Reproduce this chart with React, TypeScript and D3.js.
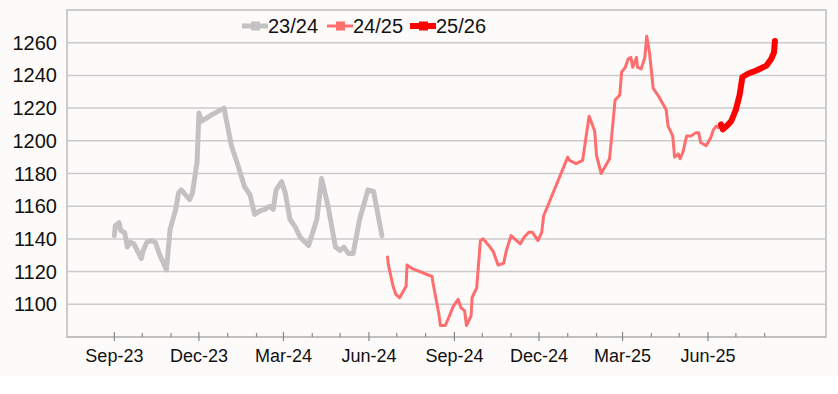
import * as React from "react";
import { line, scaleLinear, scaleTime, timeMonth, timeParse } from "d3";

// season 23/24
const dates2324 = [
  "2023-09-01", "2023-09-02", "2023-09-06", "2023-09-08", "2023-09-12", "2023-09-15",
  "2023-09-18", "2023-09-22", "2023-09-30", "2023-10-02", "2023-10-06", "2023-10-11",
  "2023-10-15", "2023-10-20", "2023-10-24", "2023-10-27", "2023-10-31", "2023-11-06",
  "2023-11-09", "2023-11-12", "2023-11-21", "2023-11-24", "2023-11-29", "2023-12-01",
  "2023-12-04", "2023-12-15", "2023-12-28", "2024-01-05", "2024-01-12", "2024-01-19",
  "2024-01-25", "2024-01-30", "2024-02-04", "2024-02-10", "2024-02-15", "2024-02-19",
  "2024-02-22", "2024-02-28", "2024-03-03", "2024-03-08", "2024-03-14", "2024-03-19",
  "2024-03-28", "2024-04-06", "2024-04-11", "2024-04-18", "2024-04-26", "2024-05-01",
  "2024-05-05", "2024-05-10", "2024-05-15", "2024-05-22", "2024-05-31", "2024-06-06",
  "2024-06-15",
];
const values2324 = [
  1142, 1148, 1150, 1145, 1144, 1135, 1138, 1137, 1128, 1133, 1138, 1139,
  1138, 1130, 1125, 1121, 1146, 1158, 1168, 1170, 1164, 1168, 1187, 1217,
  1212, 1216, 1220, 1197, 1185, 1172, 1167, 1155, 1157, 1158, 1160, 1158,
  1170, 1175, 1168, 1152, 1147, 1141, 1136, 1152, 1177, 1160, 1135, 1133,
  1135, 1131, 1131, 1152, 1170, 1169, 1142,
];

// season 24/25
const dates2425 = [
  "2024-06-21", "2024-06-22", "2024-06-27", "2024-06-30", "2024-07-04", "2024-07-08",
  "2024-07-11", "2024-07-12", "2024-07-17", "2024-08-08", "2024-08-09", "2024-08-15",
  "2024-08-17", "2024-08-22", "2024-08-26", "2024-08-31", "2024-09-05", "2024-09-08",
  "2024-09-12", "2024-09-14", "2024-09-19", "2024-09-20", "2024-09-25", "2024-09-29",
  "2024-10-02", "2024-10-08", "2024-10-13", "2024-10-18", "2024-10-24", "2024-10-27",
  "2024-11-01", "2024-11-07", "2024-11-11", "2024-11-15", "2024-11-20", "2024-11-24",
  "2024-11-30", "2024-12-04", "2024-12-06", "2025-01-01", "2025-01-03", "2025-01-10",
  "2025-01-17", "2025-01-24", "2025-01-30", "2025-02-01", "2025-02-06", "2025-02-10",
  "2025-02-15", "2025-02-21", "2025-02-26", "2025-02-28", "2025-03-04", "2025-03-07",
  "2025-03-10", "2025-03-12", "2025-03-16", "2025-03-17", "2025-03-21", "2025-03-25",
  "2025-03-27", "2025-03-30", "2025-04-03", "2025-04-08", "2025-04-17", "2025-04-19",
  "2025-04-24", "2025-04-26", "2025-04-30", "2025-05-02", "2025-05-05", "2025-05-09",
  "2025-05-14", "2025-05-19", "2025-05-22", "2025-05-24", "2025-05-30", "2025-06-04",
  "2025-06-07", "2025-06-10", "2025-06-12", "2025-06-15",
];
const values2425 = [
  1129, 1124, 1111, 1106, 1104, 1108, 1111, 1124, 1122, 1117, 1113, 1095,
  1087, 1087, 1092, 1099, 1103, 1098, 1096, 1087, 1093, 1104, 1110, 1139,
  1140, 1136, 1132, 1124, 1125, 1133, 1142, 1139, 1137, 1141, 1144, 1144,
  1139, 1144, 1154, 1190, 1188, 1186, 1188, 1215, 1206, 1191, 1180, 1184,
  1189, 1225, 1228, 1242, 1245, 1250, 1251, 1245, 1251, 1245, 1244, 1251,
  1264, 1254, 1232, 1228, 1219, 1209, 1203, 1190, 1192, 1189, 1193, 1203,
  1203, 1205, 1205, 1199, 1197, 1202, 1207, 1209, 1208, 1210,
];

// season 25/26
const dates2526 = [
  "2025-06-15", "2025-06-17", "2025-06-21", "2025-06-26", "2025-07-01", "2025-07-05",
  "2025-07-08", "2025-07-14", "2025-07-23", "2025-08-03", "2025-08-08", "2025-08-11",
  "2025-08-12",
];
const values2526 = [1210, 1207, 1209, 1212, 1219, 1228, 1239, 1241, 1243, 1246, 1250, 1254, 1261];

const seasonNames = ["23/24", "24/25", "25/26"];
const seasonColors = ["#c4c1c4", "#ff6e6e", "#ff0000"];
const seasonWidths = [5, 3, 6];
const yTicks = [1100, 1120, 1140, 1160, 1180, 1200, 1220, 1240, 1260];
const xDomain = ["2023-07-12", "2025-10-06"];

const parse = timeParse("%Y-%m-%d");
const fmt = (d: Date) =>
  ["Jan", "Feb", "Mar", "Apr", "May", "Jun", "Jul", "Aug", "Sep", "Oct", "Nov", "Dec"][d.getMonth()] +
  "-" + String(d.getFullYear()).slice(2);

export default function App() {
  const W = 838, H = 394;
  const left = 67, right = 826, top = 10, bottom = 337;

  const x = scaleTime().domain(xDomain.map((s) => parse(s) as Date)).range([left, right]);
  const y = scaleLinear().domain([1080, 1280]).range([bottom, top]);

  const series = [
    { dates: dates2324, values: values2324 },
    { dates: dates2425, values: values2425 },
    { dates: dates2526, values: values2526 },
  ].map((s) => s.dates.map((d, i) => ({ date: parse(d) as Date, value: s.values[i] })));

  const path = line<{ date: Date; value: number }>()
    .x((d) => x(d.date))
    .y((d) => y(d.value));

  const months = timeMonth.range(parse("2023-09-01") as Date, parse("2025-09-01") as Date);
  const font = "Liberation Sans, Arial, sans-serif";
  const legendX = [242, 327, 410];

  return (
    <div style={{ position: "fixed", left: 0, top: 0 }}>
      <svg width={W} height={H} style={{ display: "block", fontFamily: font }}>
        <rect x={0} y={0} width={W} height={H} fill="#ffffff" />
        <rect x={0} y={0} width={W} height={376} fill="#fdfafa" />
        {yTicks.map((t) => (
          <g key={t}>
            <line x1={left} x2={right} y1={y(t)} y2={y(t)} stroke="#cbcbcb" strokeWidth={1.5} />
            <text x={57} y={y(t)} dy="0.35em" textAnchor="end" fontSize={20} fill="#111">
              {t}
            </text>
          </g>
        ))}
        <rect x={left} y={top} width={right - left} height={bottom - top} fill="none" stroke="#cbcbcb" strokeWidth={2} />
        <line x1={left} x2={right} y1={bottom} y2={bottom} stroke="#c0c0c0" strokeWidth={2} />
        {months.map((m, i) => {
          const major = i % 3 === 0;
          return (
            <g key={i} transform={`translate(${x(m)},0)`}>
              <line y1={major ? bottom - 5 : bottom - 4} y2={major ? bottom + 4 : bottom} stroke="#888" strokeWidth={1.2} />
              {major && (
                <text y={bottom + 25} textAnchor="middle" fontSize={18} fill="#111">
                  {fmt(m)}
                </text>
              )}
            </g>
          );
        })}
        {series.map((s, i) => (
          <path
            key={i}
            d={path(s) || ""}
            fill="none"
            stroke={seasonColors[i]}
            strokeWidth={seasonWidths[i]}
            strokeLinejoin="round"
            strokeLinecap="round"
          />
        ))}
        {seasonNames.map((n, i) => (
          <g key={n} transform={`translate(${legendX[i]},26)`}>
            <line x1={0} x2={26} y1={0} y2={0} stroke={seasonColors[i]} strokeWidth={seasonWidths[i]} />
            <rect x={9} y={-4.5} width={9} height={9} fill={seasonColors[i]} />
            <text x={26} y={0} dy="0.35em" fontSize={20} fill="#111">
              {n}
            </text>
          </g>
        ))}
      </svg>
    </div>
  );
}
